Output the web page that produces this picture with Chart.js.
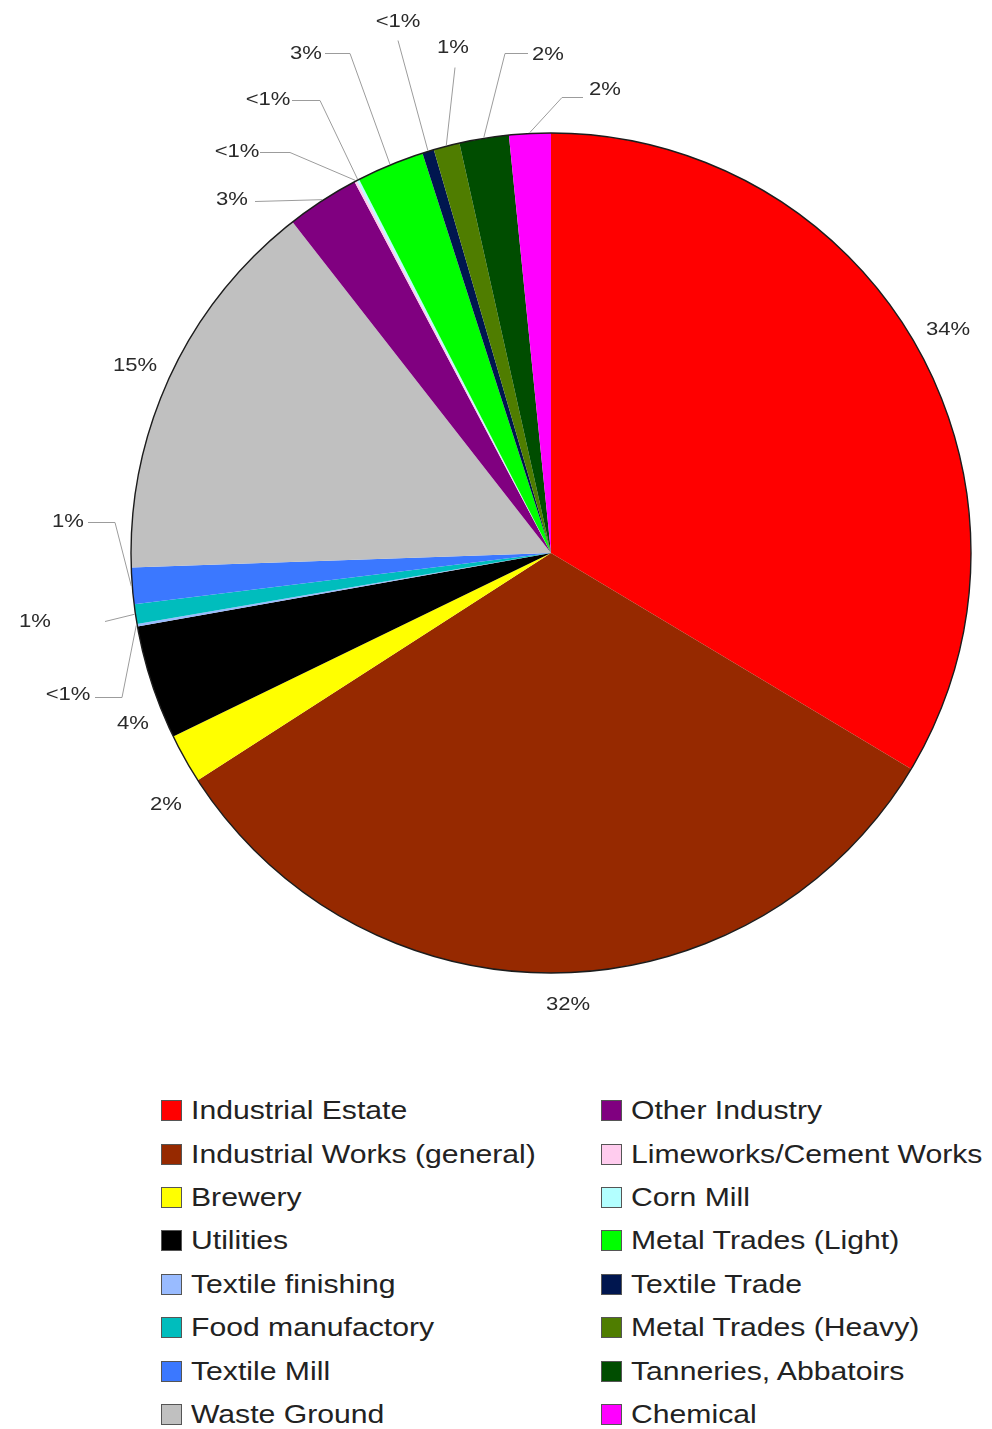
<!DOCTYPE html>
<html>
<head>
<meta charset="utf-8">
<title>Industrial land use by former activity</title>
<script src="https://cdn.jsdelivr.net/npm/chart.js@4.4.1/dist/chart.umd.min.js"></script>
<style>
  body { margin: 0; background: #fff; font-family: "Liberation Sans", Arial, sans-serif; }
  #wrap { position: relative; width: 992px; height: 1429px; overflow: hidden; }
  #pieBox { position: absolute; left: 0; top: 0; width: 992px; height: 1060px; }
  #legend {
    position: absolute; left: 161px; top: 1089px;
    display: grid; grid-template-columns: 440px 400px;
    grid-template-rows: repeat(8, 43.4px); grid-auto-flow: column;
  }
  .item { display: flex; align-items: center; height: 43.4px; }
  .swatch { width: 21px; height: 21px; box-sizing: border-box; border: 1.5px solid #555; flex: none; }
  .item span {
    display: inline-block; margin-left: 9px; font-size: 26px; color: #222;
    white-space: nowrap; transform: scaleX(1.16); transform-origin: left center;
  }
</style>
</head>
<body>
<div id="wrap">
  <div id="pieBox"><canvas id="pie" width="992" height="1060"></canvas></div>
  <div id="legend"></div>
</div>
<script>
// slices, clockwise from 12 o'clock
const categories = [
  'Industrial Estate', 'Industrial Works (general)', 'Brewery', 'Utilities',
  'Textile finishing', 'Food manufactory', 'Textile Mill', 'Waste Ground',
  'Other Industry', 'Limeworks/Cement Works', 'Corn Mill', 'Metal Trades (Light)',
  'Textile Trade', 'Metal Trades (Heavy)', 'Tanneries, Abbatoirs', 'Chemical'
];
// share of total area, %
const shares = [33.6, 32.3, 1.9, 4.4, 0.1, 0.75, 1.4, 15.0, 2.8, 0.1, 0.1, 2.6, 0.45, 1.0, 1.9, 1.6];
const sliceColours = [
  '#ff0000', '#962900', '#ffff00', '#000000', '#99bbff', '#00bdbd', '#3b78ff', '#c0c0c0',
  '#800080', '#ffccee', '#b3ffff', '#00ff00', '#00164f', '#4f7d00', '#004d00', '#ff00ff'
];

// where each percentage sits, px from the pie centre at a 420px radius
const labelSpots = [
  [397, -223], [17, 452], [-385, 252], [-418, 171],
  [-483, 142], [-516, 69], [-483, -31], [-416, -187],
  [-319, -353], [-314, -401], [-283, -453], [-245, -499],
  [-153, -531], [-98, -505], [-3, -498], [54, -463]
];
// leader line bends for the crowded small slices (null = no leader)
const leaderBends = [
  null, null, null, null,
  [[-456, 144], [-429, 144]], [[-446, 68]], [[-463, -31], [-436, -31]], null,
  [[-296, -352]], [[-291, -401], [-261, -401]], [[-259, -453], [-231, -453]], [[-226, -500], [-201, -500]],
  [[-153, -513]], [[-96, -486]], [[-23, -500], [-46, -500]], [[32, -456], [11, -456]]
];

function pctText(v) {
  return v < 0.5 ? '<1%' : Math.round(v) + '%';
}

const sliceLabels = {
  id: 'sliceLabels',
  afterDatasetsDraw(chart) {
    const ctx = chart.ctx;
    const meta = chart.getDatasetMeta(0);
    const first = meta.data[0];
    const cx = first.x, cy = first.y, R = first.outerRadius, k = R / 420;
    const values = chart.data.datasets[0].data;

    ctx.save();
    // rim of the pie
    ctx.beginPath();
    ctx.arc(cx, cy, R, 0, Math.PI * 2);
    ctx.strokeStyle = '#1c1c1c';
    ctx.lineWidth = 1.4;
    ctx.stroke();

    meta.data.forEach((arc, i) => {
      const mid = (arc.startAngle + arc.endAngle) / 2;
      const bends = leaderBends[i];
      if (bends) {
        ctx.beginPath();
        bends.forEach(([bx, by], j) => {
          const px = cx + bx * k, py = Math.round(cy + by * k) + 0.5;
          if (j === 0) ctx.moveTo(px, py); else ctx.lineTo(px, py);
        });
        ctx.lineTo(cx + Math.cos(mid) * (R + 1), cy + Math.sin(mid) * (R + 1));
        ctx.strokeStyle = '#9c9c9c';
        ctx.lineWidth = 1;
        ctx.stroke();
      }
      const [lx, ly] = labelSpots[i];
      ctx.save();
      ctx.translate(cx + lx * k, cy + ly * k);
      ctx.scale(1.16, 1);
      ctx.font = '19px "Liberation Sans", Arial, sans-serif';
      ctx.fillStyle = '#2a2a2a';
      ctx.textAlign = 'center';
      ctx.textBaseline = 'middle';
      ctx.fillText(pctText(values[i]), 0, 0);
      ctx.restore();
    });
    ctx.restore();
  }
};

const chart = new Chart(document.getElementById('pie'), {
  type: 'pie',
  data: {
    labels: categories,
    datasets: [{
      data: shares,
      backgroundColor: sliceColours,
      borderWidth: 0,
      hoverBorderWidth: 0,
      hoverOffset: 0,
      offset: 0
    }]
  },
  options: {
    responsive: false,
    animation: false,
    events: [],
    layout: { padding: { left: 131, right: 21, top: 133, bottom: 87 } },
    plugins: {
      legend: { display: false },
      tooltip: { enabled: false }
    }
  },
  plugins: [sliceLabels]
});

// two-column legend built from the chart's own legend items
const legendBox = document.getElementById('legend');
const items = chart.options.plugins.legend.labels.generateLabels(chart);
items.forEach(item => {
  const row = document.createElement('div');
  row.className = 'item';
  const sw = document.createElement('div');
  sw.className = 'swatch';
  sw.style.background = item.fillStyle;
  const txt = document.createElement('span');
  txt.textContent = item.text;
  row.appendChild(sw);
  row.appendChild(txt);
  legendBox.appendChild(row);
});
</script>
</body>
</html>
